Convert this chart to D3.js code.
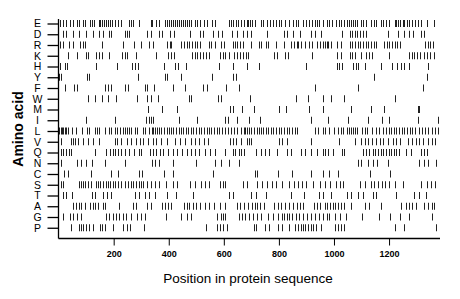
<!DOCTYPE html>
<html>
<head>
<meta charset="utf-8">
<script src="https://cdn.jsdelivr.net/npm/d3@7"></script>
<style>
  body { margin: 0; background: #fff; }
  svg { display: block; }
</style>
</head>
<body>
<svg id="chart-container" width="460" height="299"></svg>
<script>
// amino acid rows, top to bottom
var aminoAcids = ["E", "D", "R", "K", "H", "Y", "F", "W", "M", "I", "L", "V", "Q", "N", "C", "S", "T", "A", "G", "P"];
var xTicks = [200, 400, 600, 800, 1000, 1200];
var seqLength = 1385;

// positions (residue numbers) of each amino acid
var posE = [5,15,27,41,51,66,73,87,97,114,121,128,145,151,157,165,172,179,187,194,206,216,225,254,262,271,293,334,338,354,363,388,395,402,409,417,424,431,438,446,453,460,467,475,482,494,504,513,528,540,557,569,618,627,634,644,651,661,673,683,688,695,704,712,736,743,755,767,779,789,801,809,823,838,850,862,871,888,898,910,922,932,939,946,959,973,983,992,1007,1017,1024,1038,1048,1055,1062,1070,1077,1084,1099,1106,1116,1135,1145,1154,1169,1179,1188,1198,1220,1227,1234,1241,1249,1256,1266,1273,1283,1295,1304,1316,1336,1365];
var posD = [17,27,51,75,99,124,148,160,182,189,240,247,254,320,334,366,376,405,419,477,514,526,562,579,593,630,647,668,683,697,758,818,828,852,876,915,930,954,1029,1058,1067,1075,1084,1094,1106,1116,1196,1232,1254,1271,1287,1317,1326];
var posR = [5,17,39,51,78,87,97,158,233,274,300,329,342,395,405,409,446,455,465,475,484,494,504,513,545,555,567,589,601,632,642,649,659,668,700,726,734,753,760,789,818,845,855,864,871,881,896,910,920,937,951,959,966,973,980,990,1012,1026,1058,1067,1077,1087,1096,1106,1116,1125,1135,1145,1154,1181,1191,1200,1210,1220,1229,1241,1331,1341,1350,1360];
var posK = [34,66,99,107,136,148,158,184,230,240,250,281,354,397,407,419,484,494,504,513,526,535,547,586,596,605,618,637,649,659,668,680,688,784,794,823,833,922,1012,1024,1058,1067,1077,1099,1118,1128,1137,1200,1273,1283,1292,1302,1314,1326,1336,1350,1365];
var posH = [5,22,29,136,213,266,276,288,383,424,434,463,581,632,685,726,900,1012,1019,1029,1070,1079,1089,1111,1169,1212,1229,1244,1256,1271,1341];
var posY = [3,8,104,112,288,385,392,443,557,635,644,1147,1338];
var posF = [24,56,66,170,179,189,242,252,315,322,347,417,460,526,538,608,656,930,1089,1324];
var posW = [107,133,158,180,208,285,321,337,361,475,482,579,589,695,862,905,959,988,1036,1222];
var posM = [325,376,429,622,632,666,709,799,825,910,961,1060,1135,1181,1304,1309];
var posI = [99,204,317,329,337,342,438,504,605,615,649,690,731,917,980,1050,1123,1176,1198,1304,1377];
var posL = [3,8,12,17,22,27,34,49,63,85,102,112,133,141,148,170,184,191,203,213,223,233,240,247,254,264,276,286,305,315,327,339,342,349,356,366,373,383,392,400,409,417,426,436,443,453,463,470,480,489,499,509,518,528,538,545,555,564,574,584,593,605,615,625,637,649,661,673,678,685,692,700,709,719,726,736,743,753,760,770,779,789,799,809,818,828,838,847,857,867,932,942,959,968,983,1000,1014,1024,1031,1048,1055,1062,1070,1077,1084,1101,1111,1120,1137,1154,1164,1179,1188,1198,1208,1217,1227,1237,1246,1256,1266,1275,1285,1295,1309,1319,1331,1343,1355,1367,1377];
var posV = [8,44,54,61,70,87,107,124,148,204,213,228,247,264,281,296,308,325,342,354,373,395,421,441,458,479,494,511,528,542,622,632,646,661,685,692,700,801,813,828,917,1017,1075,1099,1111,1123,1138,1152,1167,1179,1196,1213,1227,1239,1268,1283,1297,1309,1324,1341,1355,1368];
var posQ = [8,17,27,37,46,131,172,187,196,206,216,228,240,254,274,293,300,332,342,354,368,380,397,414,429,448,465,482,496,511,530,550,567,603,632,642,654,663,675,717,734,748,765,792,830,845,881,896,917,939,959,968,980,995,1029,1036,1104,1118,1128,1140,1150,1159,1169,1179,1188,1198,1208,1217,1227,1237,1263,1278,1317,1326,1338];
var posN = [8,68,82,99,121,167,240,339,351,363,416,499,569,591,617,654,1087,1099,1123,1140,1155,1196,1310,1326,1343,1370];
var posC = [20,34,119,191,216,293,303,383,414,559,714,721,796,847,917,959,983,1014,1130,1205];
var posS = [8,15,75,83,90,97,107,116,136,143,150,160,172,179,187,196,206,216,225,242,252,262,271,281,291,300,308,320,337,349,366,390,416,431,477,496,516,530,545,586,596,605,668,683,719,738,758,775,789,811,838,855,869,884,900,925,949,966,985,1007,1021,1031,1094,1111,1133,1147,1159,1174,1186,1201,1222,1251,1317,1338,1353,1368];
var posT = [17,27,49,121,133,160,174,191,276,293,312,327,349,395,426,489,620,634,700,717,753,845,891,946,959,990,1046,1060,1087,1104,1140,1152,1225,1290,1310,1334];
var posA = [53,63,73,83,97,114,124,133,143,160,170,221,269,281,320,337,375,385,397,407,455,465,475,487,499,513,530,547,566,586,605,649,658,673,687,702,712,721,733,746,784,796,809,821,835,850,864,876,886,927,939,951,966,976,985,995,1005,1014,1026,1036,1060,1111,1128,1172,1242,1261,1273,1285,1297,1326,1341,1355,1365];
var posG = [17,41,53,66,80,172,184,196,208,221,233,245,264,283,300,315,390,443,465,479,576,591,596,603,654,666,678,690,705,721,736,760,777,796,811,818,828,838,847,862,874,888,903,917,932,944,959,973,983,1002,1021,1043,1101,1164,1203,1239,1271,1355];
var posP = [44,73,80,90,99,112,126,150,158,167,196,235,247,259,310,535,576,586,596,610,709,717,750,765,796,813,838,857,869,879,886,896,905,915,925,934,954,1005,1014,1026,1036,1220,1254,1370];

var positions = [posE, posD, posR, posK, posH, posY, posF, posW, posM, posI,
                 posL, posV, posQ, posN, posC, posS, posT, posA, posG, posP];

var marks = [];
aminoAcids.forEach(function(aa, i) {
    positions[i].forEach(function(p) {
        marks.push({ aa: aa, pos: p });
    });
});

var svg = d3.select("#chart-container");
var font = "'Liberation Sans', Arial, Helvetica, sans-serif";

var x = d3.scaleLinear()
    .domain([0, seqLength])
    .range([58.6, 440]);

var y = d3.scalePoint()
    .domain(aminoAcids)
    .range([23.5, 227.75]);

// residue marks
svg.append("g")
    .selectAll("line")
    .data(marks)
    .enter()
    .append("line")
    .attr("x1", d => Math.round(x(d.pos)) + 0.5)
    .attr("x2", d => Math.round(x(d.pos)) + 0.5)
    .attr("y1", d => y(d.aa) - 3.5)
    .attr("y2", d => y(d.aa) + 3.5)
    .style("stroke", "#222")
    .style("stroke-width", 1);

// y axis
var yAxis = svg.append("g")
    .attr("transform", "translate(58.5,0)")
    .call(d3.axisLeft(y).tickSize(11).tickPadding(9));
yAxis.select(".domain").attr("d", "M0,19V238.5");
yAxis.selectAll(".tick line").style("stroke", "#000").style("stroke-width", 1.3);
yAxis.selectAll("text")
    .attr("text-anchor", "middle")
    .attr("x", -21)
    .style("font-family", font)
    .style("font-size", "10.5px")
    .style("fill", "#000");

// x axis
var xAxis = svg.append("g")
    .attr("transform", "translate(0,238.5)")
    .call(d3.axisBottom(x).tickValues(xTicks).tickFormat(d3.format("d")).tickSize(7).tickPadding(5));
xAxis.select(".domain").attr("d", "M58.5,0H440");
xAxis.selectAll(".tick line").style("stroke", "#000");
xAxis.selectAll("text")
    .style("font-family", font)
    .style("font-size", "9px")
    .style("font-weight", "bold")
    .style("fill", "#000");

svg.selectAll(".domain").style("stroke", "#000").style("stroke-width", 1.3);

// titles
svg.append("text")
    .attr("x", 248)
    .attr("y", 282.5)
    .attr("text-anchor", "middle")
    .style("font-family", font)
    .style("font-size", "13.5px")
    .text("Position in protein sequence");

svg.append("text")
    .attr("transform", "translate(23,129) rotate(-90)")
    .attr("text-anchor", "middle")
    .style("font-family", font)
    .style("font-size", "14px")
    .style("font-weight", "bold")
    .text("Amino acid");
</script>
</body>
</html>
